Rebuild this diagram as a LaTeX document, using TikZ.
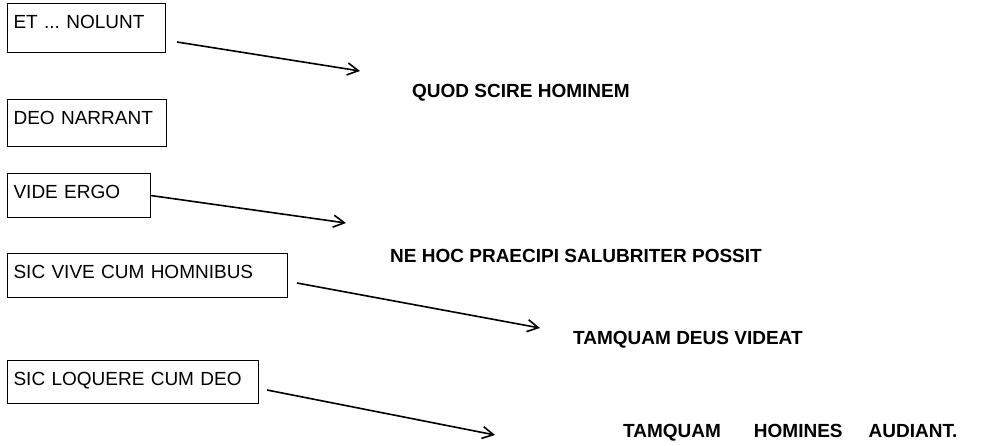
\documentclass[tikz,border=0pt]{standalone}
\usepackage{fontspec}
\setmainfont{Liberation Sans}
\usetikzlibrary{arrows.meta}
\frenchspacing

\begin{document}
\begin{tikzpicture}[
        x=1pt, y=-1pt,
        every node/.style={font=\fontsize{19}{22}\selectfont, inner sep=0pt},
        verse/.style={draw, line width=1.1pt, anchor=north west, align=left, inner xsep=6pt, inner ysep=0pt, text height=25pt, text depth=19pt},
        gloss/.style={anchor=base west, font=\fontsize{19}{22}\selectfont\bfseries},
        pointer/.style={line width=1.6pt, -{Straight Barb[length=11pt,width=12pt]}}
    ]
        \useasboundingbox (0,0) rectangle (984,446);

        % boxed verses on the left
        \node[verse, text width=146pt, text depth=24pt] (et_nolunt)  at (7,3)   {ET ... NOLUNT};
        \node[verse, text width=147pt, text depth=22pt] (deo)        at (7,99)  {DEO NARRANT};
        \node[verse, text width=131pt]                  (vide)       at (7,173) {VIDE ERGO};
        \node[verse, text width=268pt]                  (sic_vive)   at (7,253) {SIC VIVE CUM HOMNIBUS};
        \node[verse, text width=239pt, text depth=18pt] (sic_loq)    at (7,360) {SIC LOQUERE CUM DEO};

        % glosses on the right
        \node[gloss] (quod)    at (412,98)  {QUOD SCIRE HOMINEM};
        \node[gloss] (ne_hoc)  at (390,262) {NE HOC PRAECIPI SALUBRITER POSSIT};
        \node[gloss] (deus)    at (573,344) {TAMQUAM DEUS VIDEAT};
        \node[gloss] (homines) at (623,437) {TAMQUAM\hspace{33pt}HOMINES\hspace{26pt}AUDIANT.};

        \coordinate (et_from)   at (177,42);
        \coordinate (et_to)     at (360,71);
        \coordinate (vide_to)   at (346,223);
        \coordinate (vive_from) at (297,283);
        \coordinate (vive_to)   at (540,328);
        \coordinate (loq_from)  at (267,390);
        \coordinate (loq_to)    at (495,435);

        \draw[pointer] (et_from)   -- (et_to);
        \draw[pointer] (vide.east) -- (vide_to);
        \draw[pointer] (vive_from) -- (vive_to);
        \draw[pointer] (loq_from)  -- (loq_to);

    \end{tikzpicture}
\end{document}
